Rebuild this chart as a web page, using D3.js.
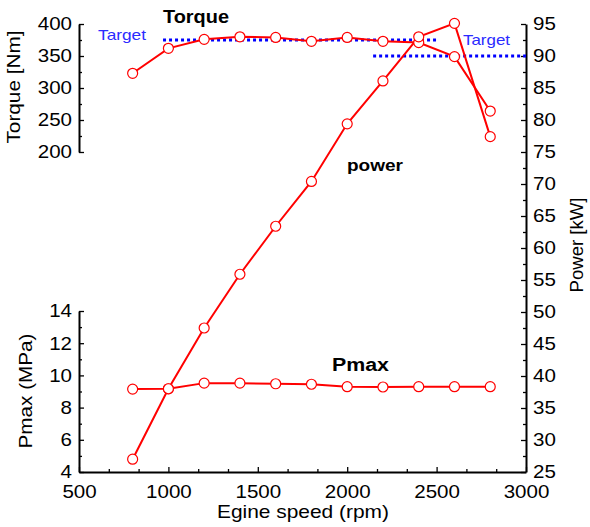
<!DOCTYPE html>
<html><head><meta charset="utf-8">
<script src="https://cdn.jsdelivr.net/npm/d3@7"></script>
<style>html,body{margin:0;padding:0;background:#fff;}</style>
</head><body>
<script>
// ---- data ----
const rpm = [800, 1000, 1200, 1400, 1600, 1800, 2000, 2200, 2400, 2600, 2800];
const torque = [323, 362, 376, 380, 379, 373, 379, 373, 371, 349, 264];
const power = [27.0, 38.0, 47.5, 55.9, 63.4, 70.4, 79.4, 86.1, 93.0, 95.1, 77.4];
const pmax = [9.15, 9.17, 9.52, 9.52, 9.48, 9.45, 9.3, 9.28, 9.3, 9.3, 9.3];
const torqueTarget = {from: 970, to: 2510, value: 375};
const powerTarget = {from: 2145, to: 3000, value: 90};
const xTicks = [500, 1000, 1500, 2000, 2500, 3000];
const torqueTicks = [200, 250, 300, 350, 400];
const pmaxTicks = [4, 6, 8, 10, 12, 14];
const powerTicks = [25, 30, 35, 40, 45, 50, 55, 60, 65, 70, 75, 80, 85, 90, 95];

const W = 590, H = 527;
const svg = d3.select("body").append("svg").attr("width", W).attr("height", H)
  .style("font-family", "'Liberation Sans', Arial, sans-serif");
svg.append("rect").attr("width", W).attr("height", H).attr("fill", "#fff");

const x = d3.scaleLinear().domain([500, 3000]).range([79, 526]);
const yT = d3.scaleLinear().domain([200, 400]).range([152, 24]);
const yM = d3.scaleLinear().domain([4, 14]).range([472, 311]);
const yP = d3.scaleLinear().domain([25, 95]).range([472, 24]);

function stretch(sel, k) {
  sel.each(function () {
    const w = this.getComputedTextLength();
    this.setAttribute("textLength", w * k);
    this.setAttribute("lengthAdjust", "spacingAndGlyphs");
  });
}
function styleAxis(g) {
  g.select(".domain").attr("stroke", "#000").attr("stroke-width", 2);
  g.selectAll(".tick line").attr("stroke", "#000").attr("stroke-width", 1.3);
  g.selectAll(".tick text").attr("font-size", 18.5).attr("fill", "#000")
    .style("font-family", "'Liberation Sans', Arial, sans-serif");
}

// minor ticks
const minorX = d3.range(500, 3001, 500 / 3).filter(v => Math.abs((v - 500) % 500) > 1 && Math.abs((v - 500) % 500 - 500) > 1);
const minorT = [225, 275, 325, 375];
const minorM = [5, 7, 9, 11, 13];
const minorP = powerTicks.slice(0, -1).map(v => v + 2.5);

// bottom axis
const gx = svg.append("g").attr("transform", "translate(0,472)");
gx.call(d3.axisBottom(x).tickValues(xTicks).tickFormat(d3.format("d")).tickSizeInner(-5).tickSizeOuter(0).tickPadding(12.5));
styleAxis(gx);
stretch(gx.selectAll(".tick text"), 1.11);
const gx2 = svg.append("g").attr("transform", "translate(0,472)");
gx2.call(d3.axisBottom(x).tickValues(minorX).tickFormat("").tickSizeInner(-3).tickSizeOuter(0));
gx2.select(".domain").remove();
gx2.selectAll(".tick line").attr("stroke", "#000").attr("stroke-width", 1.3);

// left torque axis
const gT = svg.append("g").attr("transform", "translate(79,0)");
gT.call(d3.axisLeft(yT).tickValues(torqueTicks).tickSizeInner(-5).tickSizeOuter(0).tickPadding(7));
styleAxis(gT);
stretch(gT.selectAll(".tick text"), 1.11);
const gT2 = svg.append("g").attr("transform", "translate(79,0)");
gT2.call(d3.axisLeft(yT).tickValues(minorT).tickFormat("").tickSizeInner(-3).tickSizeOuter(0));
gT2.select(".domain").remove();
gT2.selectAll(".tick line").attr("stroke", "#000").attr("stroke-width", 1.3);

// left pmax axis
const gM = svg.append("g").attr("transform", "translate(79,0)");
gM.call(d3.axisLeft(yM).tickValues(pmaxTicks).tickSizeInner(-5).tickSizeOuter(0).tickPadding(7));
styleAxis(gM);
stretch(gM.selectAll(".tick text"), 1.11);
const gM2 = svg.append("g").attr("transform", "translate(79,0)");
gM2.call(d3.axisLeft(yM).tickValues(minorM).tickFormat("").tickSizeInner(-3).tickSizeOuter(0));
gM2.select(".domain").remove();
gM2.selectAll(".tick line").attr("stroke", "#000").attr("stroke-width", 1.3);

// right power axis
const gP = svg.append("g").attr("transform", "translate(526,0)");
gP.call(d3.axisRight(yP).tickValues(powerTicks).tickSizeInner(-5).tickSizeOuter(0).tickPadding(7));
styleAxis(gP);
stretch(gP.selectAll(".tick text"), 1.11);
const gP2 = svg.append("g").attr("transform", "translate(526,0)");
gP2.call(d3.axisRight(yP).tickValues(minorP).tickFormat("").tickSizeInner(-3).tickSizeOuter(0));
gP2.select(".domain").remove();
gP2.selectAll(".tick line").attr("stroke", "#000").attr("stroke-width", 1.3);

// targets
const blue = "#0000ff";
svg.append("line")
  .attr("x1", x(torqueTarget.from)).attr("x2", x(torqueTarget.to))
  .attr("y1", yT(torqueTarget.value)).attr("y2", yT(torqueTarget.value))
  .attr("stroke", blue).attr("stroke-width", 3).attr("stroke-dasharray", "3,3");
svg.append("line")
  .attr("x1", x(powerTarget.from)).attr("x2", x(powerTarget.to))
  .attr("y1", yP(powerTarget.value)).attr("y2", yP(powerTarget.value))
  .attr("stroke", blue).attr("stroke-width", 3).attr("stroke-dasharray", "3,3");

// series
const red = "#ff0000";
const series = [
  {vals: torque, y: yT},
  {vals: power, y: yP},
  {vals: pmax, y: yM}
];
series.forEach(s => {
  const pts = rpm.map((r, i) => [r, s.vals[i]]);
  svg.append("path").datum(pts)
    .attr("d", d3.line().x(d => x(d[0])).y(d => s.y(d[1])))
    .attr("fill", "none").attr("stroke", red).attr("stroke-width", 2);
});
series.forEach(s => {
  svg.append("g").selectAll("circle").data(rpm.map((r, i) => [r, s.vals[i]])).join("circle")
    .attr("cx", d => x(d[0])).attr("cy", d => s.y(d[1])).attr("r", 5)
    .attr("fill", "#fff").attr("stroke", red).attr("stroke-width", 1.2);
});

// texts
function label(t, xx, yy, opts) {
  const el = svg.append("text").attr("x", xx).attr("y", yy).text(t)
    .attr("font-size", opts.size || 18.5)
    .attr("fill", opts.fill || "#000")
    .attr("font-weight", opts.bold ? "bold" : "normal")
    .attr("text-anchor", opts.anchor || "start");
  if (opts.rot) el.attr("transform", `rotate(-90,${xx},${yy})`);
  if (opts.len) el.attr("textLength", opts.len).attr("lengthAdjust", "spacingAndGlyphs");
  return el;
}
label("Torque [Nm]", 20, 87, {rot: true, anchor: "middle", len: 113});
label("Pmax (MPa)", 32, 391, {rot: true, anchor: "middle", len: 115});
label("Power [kW]", 583, 245, {rot: true, anchor: "middle", len: 95});
label("Egine speed (rpm)", 303, 518, {anchor: "middle", len: 172});
label("Torque", 163, 23, {bold: true, size: 18, len: 66});
label("power", 347, 170.5, {bold: true, size: 17, len: 56});
label("Pmax", 332, 371, {bold: true, size: 17.5, len: 57});
label("Target", 98, 39.5, {size: 15, fill: "#2b2bff", len: 48});
label("Target", 463, 44.5, {size: 15, fill: "#2b2bff", len: 47});
</script>
</body></html>
